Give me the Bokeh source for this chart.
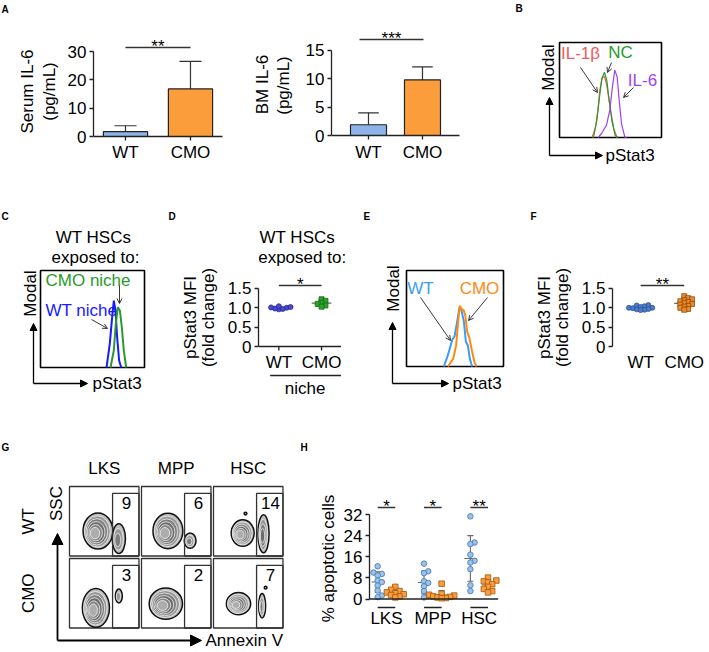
import numpy as np
from math import pi
from bokeh.plotting import figure
from bokeh.models import Range1d, Label, Arrow, NormalHead, OpenHead, FixedTicker
from bokeh.layouts import row, column
from bokeh.embed import file_html
from bokeh.resources import INLINE

FONT = "Liberation Sans"
FS = "17px"

# ======================= DATA =======================
groups = ["WT", "CMO"]

# A: IL-6 (mean, upper SD)
serum_il6_mean = [1.7, 16.8]
serum_il6_sd = [2.1, 9.7]
serum_sig = "**"
bm_il6_mean = [1.9, 9.8]
bm_il6_sd = [2.1, 2.3]
bm_sig = "***"

# B: pStat3 histograms (x: % of axis, y: % of box height)
b_labels = ["IL-1β", "NC", "IL-6"]
b_il1b_x = [32, 35.3, 37.6, 39.5, 41.8, 44.1, 46.1, 48.4, 50.7, 53.3, 56.5]
b_il1b_y = [0, 10.8, 28.4, 49.5, 62.8, 64.2, 56.5, 40.7, 24.9, 9.1, 0]
b_nc_x = [33.3, 36.6, 39.2, 41.5, 44.1, 46.4, 48.7, 51.3, 54.6, 57.0]
b_nc_y = [0, 18, 42.5, 61.8, 68.7, 59.9, 38.9, 17.9, 2.1, 0]
b_il6_x = [37.9, 41.2, 46.1, 49.3, 51.9, 54.2, 56.5, 58.5, 60.8, 64.0, 65.7]
b_il6_y = [0, 4.2, 13, 28.8, 53.3, 70.9, 63.9, 39.3, 14.7, 0.7, 0]

# C: WT HSCs exposed to niches
c_labels = ["CMO niche", "WT niche"]
c_wt_x = [63.5, 66.6, 68.9, 70.5, 72.1, 73.7, 75.6, 77.6]
c_wt_y = [0, 24.4, 51.9, 69, 58.8, 31.2, 7.2, 0]
c_cmo_x = [67.3, 70.5, 72.4, 74.4, 76.3, 78.2, 80.1, 82.4]
c_cmo_y = [0, 17.5, 45, 62.2, 58.8, 41.5, 17.5, 0]

# D: pStat3 MFI fold change (niche)
d_wt = [0.96, 0.98, 1.0, 1.01, 1.02, 0.97, 1.04]
d_cmo = [1.22, 1.18, 1.13, 1.10, 1.06, 1.03]
d_sig = "*"

# E: pStat3 histograms WT vs CMO
e_labels = ["WT", "CMO"]
e_wt_x = [38.5, 42.6, 47.1, 49.5, 52.3, 54.6, 56.7, 59.1, 61.2, 63.2, 65.3, 67.7]
e_wt_y = [0, 11.5, 27.6, 31.2, 47.3, 61.6, 58, 47.3, 25.8, 22.2, 7.9, 0]
e_cmo_x = [42.6, 48.1, 51.2, 53.3, 55, 56.7, 58.8, 60.5, 62.5, 64.9, 67.7, 70.1, 72.2]
e_cmo_y = [0, 7.9, 22.2, 47.3, 63.4, 59.9, 58.8, 54.1, 36.6, 29.4, 15.1, 4.3, 0]

# F: pStat3 MFI fold change
f_wt = [1.07, 1.06, 1.04, 1.02, 1.0, 1.0, 0.99, 0.97, 0.96, 0.95, 0.94]
f_cmo = [1.3, 1.25, 1.22, 1.2, 1.17, 1.15, 1.12, 1.1, 1.08, 1.05, 1.03, 1.0, 0.97, 0.95]
f_sig = "**"

# G: Annexin V flow plots
g_cols = ["LKS", "MPP", "HSC"]
g_rows = ["WT", "CMO"]
g_gate_pct = [9, 6, 14, 3, 2, 7]
pop_row = [0, 0, 0, 0, 0, 0, 0, 1, 1, 1, 1, 1, 1]
pop_col = [0, 0, 1, 1, 2, 2, 2, 0, 0, 1, 2, 2, 2]
pop_u = [0.41, 0.71, 0.38, 0.70, 0.42, 0.72, 0.46, 0.38, 0.71, 0.35, 0.36, 0.70, 0.75]
pop_v = [0.36, 0.25, 0.36, 0.22, 0.33, 0.32, 0.61, 0.29, 0.46, 0.35, 0.35, 0.32, 0.58]
pop_w = [0.43, 0.19, 0.43, 0.17, 0.33, 0.16, 0.04, 0.39, 0.10, 0.48, 0.35, 0.10, 0.04]
pop_h = [0.52, 0.43, 0.51, 0.22, 0.38, 0.55, 0.04, 0.56, 0.20, 0.45, 0.32, 0.35, 0.04]
pop_lv = [6, 3, 6, 3, 6, 4, 1, 6, 2, 6, 6, 3, 1]

# H: % apoptotic cells
h_groups = ["LKS", "MPP", "HSC"]
h_wt = [[12.4, 10.0, 9.5, 8.9, 7.0, 6.4, 5.1, 3.2, 1.3, 0.7],
        [13.4, 10.5, 9.8, 6.7, 6.1, 4.8, 3.0, 1.2, 0.6],
        [31.3, 21.4, 20.8, 16.8, 14.5, 13.8, 11.3, 5.2, 3.0]]
h_cmo = [[4.6, 3.5, 3.0, 2.5, 2.2, 1.8, 1.5, 1.0, 0.6],
         [5.8, 2.0, 1.6, 1.3, 1.0, 0.8, 0.6, 0.4, 0.3],
         [8.1, 7.0, 6.7, 6.3, 5.6, 4.6, 3.8, 3.0, 2.5]]
h_sig = ["*", "*", "**"]

# ======================= STYLE =======================
C_BAR_WT = "#8db3ea"
C_BAR_CMO = "#fb9d3b"
C_RED = "#f05a5a"
C_GREEN = "#2a9a2a"
C_PURPLE = "#a040f0"
C_BLUE = "#1a1aff"
C_LBLUE = "#3c9cf5"
C_ORANGE = "#ff8a10"
AX = "#222222"
H1 = 205   # row heights
H2 = 205
H3 = 241


def _fig(w, h, xr, yr, bl=0, yaxis=False):
    p = figure(width=w, height=h, x_range=Range1d(*xr), y_range=Range1d(*yr),
               output_backend="svg", toolbar_location=None,
               x_axis_location=None, y_axis_location=("left" if yaxis else None),
               min_border_left=bl, min_border_right=0, min_border_top=0, min_border_bottom=0)
    try:
        p.xgrid.visible = False
        p.ygrid.visible = False
    except Exception:
        pass
    p.outline_line_color = None
    return p


def strip(x0, y0, w, h):
    # blank text strip, data units = page pixels (y grows downward)
    return _fig(w, h, (x0, x0 + w), (y0 + h, y0))


def style_yaxis(p, ticks, bounds, overrides=None):
    ax = p.yaxis[0]
    ax.axis_line_color = AX
    ax.axis_line_width = 1.3
    ax.major_tick_line_color = AX
    ax.major_tick_line_width = 1.3
    ax.major_tick_in = 0
    ax.major_tick_out = 4
    ax.minor_tick_line_color = None
    ax.major_label_text_font = FONT
    ax.major_label_text_font_size = FS
    ax.major_label_text_color = "black"
    ax.major_label_standoff = 3
    ax.ticker = FixedTicker(ticks=ticks)
    ax.bounds = bounds
    if overrides:
        ax.major_label_overrides = overrides


def txt(p, x, y, text, size=FS, color="black", angle=0.0, align="center",
        baseline="middle", style="normal"):
    p.add_layout(Label(x=x, y=y, text=text, text_font=FONT, text_font_size=size,
                       text_color=color, angle=angle, text_align=align,
                       text_baseline=baseline, text_font_style=style))


def letter(p, x, y, t):
    txt(p, x, y, t, size="10px", style="bold", align="left")


def arrow(p, x0, y0, x1, y1, head="normal", size=7, lw=1.3, color="black"):
    if head == "normal":
        hd = NormalHead(size=size, fill_color=color, line_color=color, line_width=1)
    elif head == "open":
        hd = OpenHead(size=size, line_color=color, line_width=lw)
    else:
        hd = None
    p.add_layout(Arrow(end=hd, x_start=x0, y_start=y0, x_end=x1, y_end=y1,
                       line_color=color, line_width=lw))


def conv(x0, ppx, left, y0, ppy, bottom):
    return (lambda px: x0 + (px - left) / ppx), (lambda py: y0 + (bottom - py) / ppy)


def swarm(vals, thresh, step):
    vals = np.asarray(vals, float)
    offs = np.zeros(len(vals))
    placed = []
    for i in np.argsort(vals):
        v = vals[i]
        k = 0
        while True:
            c = 0.0 if k == 0 else ((k + 1) // 2) * step * (1 if k % 2 else -1)
            if all(abs(v - pv) >= thresh or abs(c - po) >= step * 0.999 for pv, po in placed):
                break
            k += 1
        offs[i] = c
        placed.append((v, c))
    return offs


def mean_sd(p, xc, vals, half_mean, half_cap, color="#666666", lw=1.1):
    m = float(np.mean(vals))
    s = float(np.std(vals, ddof=1))
    p.segment([xc - half_mean], [m], [xc + half_mean], [m], line_color=color, line_width=lw)
    p.segment([xc], [m - s], [xc], [m + s], line_color=color, line_width=lw)
    p.segment([xc - half_cap, xc - half_cap], [m - s, m + s], [xc + half_cap, xc + half_cap],
              [m - s, m + s], line_color=color, line_width=lw)


def x_axis_manual(p, x0, x1, ticks, labels, tick_len, label_y, line=True):
    n = len(ticks)
    if line:
        p.segment([x0], [0], [x1], [0], line_color=AX, line_width=1.3)
        if tick_len:
            p.segment(ticks, [0] * n, ticks, [-tick_len] * n, line_color=AX, line_width=1.3)
    for t, lab in zip(ticks, labels):
        txt(p, t, label_y, lab)


# ======================= ROW 1 =======================
# --- A (serum) ---
sa1 = strip(0, 0, 62, H1)
letter(sa1, 1, 9, "A")
txt(sa1, 27, 91, "Serum IL-6", angle=pi / 2)
txt(sa1, 49, 91, "(pg/mL)", angle=pi / 2)

fx, fy = conv(0.508, 65, 93, 0, 2.833, 136)
a1 = _fig(173, H1, (fx(93), fx(235)), (fy(H1), fy(0)), bl=31, yaxis=True)


def bars(p, means, sds, bw, cap):
    xs = np.array([1.0, 2.0])
    m = np.array(means, float)
    s = np.array(sds, float)
    p.segment(xs, m, xs, m + s, line_color="#333333", line_width=1.2)
    p.segment(xs - cap / 2, m + s, xs + cap / 2, m + s, line_color="#333333", line_width=1.2)
    p.vbar(x=xs, top=m, bottom=0, width=bw, fill_color=[C_BAR_WT, C_BAR_CMO],
           line_color="#222222", line_width=1.2)


bars(a1, serum_il6_mean, serum_il6_sd, 0.68, 0.34)
a1.segment([1.0], [fy(47)], [2.0], [fy(47)], line_color="#333333", line_width=1.3)
txt(a1, 1.5, fy(46), serum_sig, baseline="alphabetic")
x_axis_manual(a1, fx(93), fx(222), [1, 2], groups, 4 / 2.833, fy(152))
style_yaxis(a1, [0, 10, 20, 30], (0, 30))

# --- A (BM) ---
sa2 = strip(235, 0, 65, H1)
txt(sa2, 262, 84, "BM IL-6", angle=pi / 2)
txt(sa2, 283, 85, "(pg/mL)", angle=pi / 2)

fx, fy = conv(0.315, 54, 331, 0, 5.667, 135)
a2 = _fig(170, H1, (fx(331), fx(470)), (fy(H1), fy(0)), bl=31, yaxis=True)
bars(a2, bm_il6_mean, bm_il6_sd, 0.667, 0.38)
a2.segment([fx(359)], [fy(39)], [fx(423)], [fy(39)], line_color="#333333", line_width=1.3)
txt(a2, fx(391), fy(38), bm_sig, baseline="alphabetic")
x_axis_manual(a2, fx(331), fx(459), [1, 2], groups, 4 / 5.667, fy(152))
style_yaxis(a2, [0, 5, 10, 15], (0, 15))

# --- B ---
fx, fy = conv(0, 1.02, 559, 0, 0.95, 137)
b = _fig(238, H1, (fx(470), fx(708)), (fy(H1), fy(0)))
b.quad(left=[0], right=[100], bottom=[0], top=[100], fill_color=None, line_color="black",
       line_width=1.6)
b.line(b_il1b_x, b_il1b_y, line_color=C_RED, line_width=1.2)
b.line(b_nc_x, b_nc_y, line_color=C_GREEN, line_width=1.2)
b.line(b_il6_x, b_il6_y, line_color=C_PURPLE, line_width=1.2)
letter(b, fx(515), fy(8), "B")
arrow(b, fx(549), fy(155), fx(549), fy(97))
arrow(b, fx(549), fy(155), fx(602), fy(155))
txt(b, fx(605), fy(155), "pStat3", align="left")
txt(b, fx(548), fy(67), "Modal", angle=pi / 2)
txt(b, fx(580), fy(53), b_labels[0], color=C_RED)
txt(b, fx(620), fy(52), b_labels[1], color=C_GREEN)
txt(b, fx(642), fy(80), b_labels[2], color=C_PURPLE)
arrow(b, fx(580), fy(67), fx(597), fy(92), head="open", size=5, lw=0.9, color="#222222")
arrow(b, fx(611), fy(62), fx(607), fy(72), head="open", size=5, lw=0.9, color="#222222")
arrow(b, fx(633), fy(87), fx(623), fy(97), head="open", size=5, lw=0.9, color="#222222")

# ======================= ROW 2 =======================
Y2 = H1
# --- C ---
fx, fy = conv(0, 1.04, 40, 0, 0.97, 367)
c = _fig(150, H2, (fx(0), fx(150)), (fy(Y2 + H2), fy(Y2)))
c.quad(left=[0], right=[100], bottom=[0], top=[100], fill_color=None, line_color="black",
       line_width=1.6)
c.line(c_wt_x, c_wt_y, line_color=C_BLUE, line_width=2)
c.line(c_cmo_x, c_cmo_y, line_color=C_GREEN, line_width=2)
letter(c, fx(1), fy(216), "C")
txt(c, fx(93), fy(237), "WT HSCs")
txt(c, fx(95), fy(257), "exposed to:")
arrow(c, fx(33), fy(383), fx(33), fy(323))
arrow(c, fx(33), fy(383), fx(87), fy(383))
txt(c, fx(92), fy(383), "pStat3", align="left")
txt(c, fx(30), fy(293), "Modal", angle=pi / 2)
txt(c, fx(45), fy(280), c_labels[0], color=C_GREEN, align="left")
txt(c, fx(45), fy(310), c_labels[1], color=C_BLUE, align="left")
arrow(c, fx(119), fy(285), fx(119), fy(303), head="open", size=5, lw=0.9, color="#222222")
arrow(c, fx(91), fy(319), fx(107), fy(328), head="open", size=5, lw=0.9, color="#222222")


# --- D / F helper ---
def mfi_panel(p, wt, cmo, wt_col, cmo_col, sig, pxu, fy):
    mean_sd(p, 1.0, wt, 0.23, 0.07)
    mean_sd(p, 2.0, cmo, 0.23, 0.07)
    ow = swarm(wt, 3.0 / 38.7, 4.0 / pxu)
    oc = swarm(cmo, 3.0 / 38.7, 4.0 / pxu)
    p.scatter(1.0 + ow, wt, marker="circle", size=5, fill_color=wt_col[0], line_color=wt_col[1],
              line_width=0.8)
    p.scatter(2.0 + oc, cmo, marker="square", size=5, fill_color=cmo_col[0],
              line_color=cmo_col[1], line_width=0.8)
    p.segment([1.0], [fy(285)], [2.0], [fy(285)], line_color="#333333", line_width=1.3)
    txt(p, 1.5, fy(284), sig, baseline="alphabetic")
    style_yaxis(p, [0, 0.5, 1.0, 1.5], (0, 1.5), {0: "0", 0.5: "0.5", 1: "1.0", 1.5: "1.5"})


# --- D ---
sd = strip(150, Y2, 74, H2)
letter(sd, 168, 216, "D")
txt(sd, 190, 317, "pStat3 MFI", angle=pi / 2)
txt(sd, 208, 317, "(fold change)", angle=pi / 2)

fx, fy = conv(0.523, 44, 255, 0, 38.7, 346)
d = _fig(131, H2, (fx(255), fx(355)), (fy(Y2 + H2), fy(Y2)), bl=31, yaxis=True)
mfi_panel(d, d_wt, d_cmo, ("#4a4ad0", "#26268a"), ("#2aa52a", "#176a17"), d_sig, 44, fy)
x_axis_manual(d, fx(255), fx(340), [1, 2], groups, 4 / 38.7, fy(362))
txt(d, fx(295), fy(237), "WT HSCs")
txt(d, fx(300), fy(257), "exposed to:")
d.segment([fx(267)], [fy(375)], [fx(340)], [fy(375)], line_color=AX, line_width=1.3)
txt(d, fx(303), fy(388), "niche")

# --- E ---
fx, fy = conv(0, 0.97, 406, 0, 0.96, 366)
e = _fig(160, H2, (fx(355), fx(515)), (fy(Y2 + H2), fy(Y2)))
e.quad(left=[0], right=[100], bottom=[0], top=[100], fill_color=None, line_color="black",
       line_width=1.6)
e.line(e_wt_x, e_wt_y, line_color=C_LBLUE, line_width=2)
e.line(e_cmo_x, e_cmo_y, line_color=C_ORANGE, line_width=2)
letter(e, fx(363), fy(216), "E")
arrow(e, fx(392), fy(383), fx(392), fy(322))
arrow(e, fx(392), fy(383), fx(448), fy(383))
txt(e, fx(452), fy(383), "pStat3", align="left")
txt(e, fx(393), fy(288), "Modal", angle=pi / 2)
txt(e, fx(420), fy(288), e_labels[0], color=C_LBLUE)
txt(e, fx(479), fy(288), e_labels[1], color=C_ORANGE)
arrow(e, fx(420), fy(297), fx(450), fy(340), head="open", size=5, lw=0.9, color="#222222")
arrow(e, fx(487), fy(297), fx(468), fy(320), head="open", size=5, lw=0.9, color="#222222")

# --- F ---
sf = strip(515, Y2, 63, H2)
letter(sf, 530, 216, "F")
txt(sf, 544, 317, "pStat3 MFI", angle=pi / 2)
txt(sf, 562, 317, "(fold change)", angle=pi / 2)

fx, fy = conv(0.356, 45, 609, 0, 38.7, 346)
f = _fig(130, H2, (fx(609), fx(708)), (fy(Y2 + H2), fy(Y2)), bl=31, yaxis=True)
mfi_panel(f, f_wt, f_cmo, ("#4d7ccb", "#2c4f8f"), ("#ee8a2a", "#8f4a0e"), f_sig, 45, fy)
x_axis_manual(f, fx(609), fx(700), [1, 2], groups, 0, fy(362), line=False)

# ======================= ROW 3 =======================
Y3 = H1 + H2
CELL = 0.965
gx = lambda px: (px - 69) / 72.0
gy = lambda py: (py - 486) / 72.0
g = _fig(300, H3, (gx(0), gx(300)), (gy(Y3 + H3), gy(Y3)))
cx = [cc + CELL / 2 for rr in range(2) for cc in range(3)]
cy = [rr + CELL / 2 for rr in range(2) for cc in range(3)]
g.rect(cx, cy, CELL, CELL, fill_color="white", line_color="#333333", line_width=1.3)

levels_fill = ["#bdbdbd", "#979797", "#7e7e7e", "#6c6c6c", "#858585", "#adadad"]
ex, ey, ew, eh, ef, elc, elw = [], [], [], [], [], [], []
for rr, cc, u, v, w_, h_, lv in zip(pop_row, pop_col, pop_u, pop_v, pop_w, pop_h, pop_lv):
    for k in range(lv):
        s = 1.0 - 0.82 * k / lv
        sh = 0.12 * k / lv
        uu = u - sh * w_
        vv = v - sh * h_ * 0.6
        ex.append(cc + uu * CELL)
        ey.append(rr + (1 - vv) * CELL)
        ew.append(w_ * s * CELL)
        eh.append(h_ * s * CELL)
        ef.append(levels_fill[k])
        elc.append("#111111" if k == 0 else "#f2f2f2")
        elw.append(1.5 if k == 0 else 0.8)
g.ellipse(x=ex, y=ey, width=ew, height=eh, fill_color=ef, line_color=elc, line_width=elw)

gl, gr_, gt, gb = [], [], [], []
for rr in range(2):
    for cc in range(3):
        gl.append(cc + 0.62 * CELL)
        gr_.append(cc + CELL)
        gt.append(rr + 0.1 * CELL)
        gb.append(rr + CELL)
g.quad(left=gl, right=gr_, top=gt, bottom=gb, fill_color=None, line_color="#333333",
       line_width=1.3)
for i, val in enumerate(g_gate_pct):
    rr, cc = divmod(i, 3)
    txt(g, cc + 0.82 * CELL, rr + 0.24 * CELL, str(val))
for cc, name in enumerate(g_cols):
    txt(g, cc + CELL / 2, gy(468), name)
for rr, name in enumerate(g_rows):
    txt(g, gx(28), rr + CELL / 2, name, angle=pi / 2)
letter(g, gx(1), gy(447), "G")
txt(g, gx(56), gy(503), "SSC", angle=pi / 2)
arrow(g, gx(57), gy(640), gx(57), gy(533), size=11, lw=1.8)
arrow(g, gx(57), gy(640), gx(201), gy(640), size=11, lw=1.8)
txt(g, gx(205), gy(640), "Annexin V", align="left")

# --- H ---
shs = strip(300, Y3, 40, H3)
letter(shs, 300, 447, "H")
txt(shs, 328, 558, "% apoptotic cells", angle=pi / 2)

fx, fy = conv(-0.366, 46.5, 368, 0, 2.64, 598.5)
h = _fig(368, H3, (fx(368), fx(708)), (fy(Y3 + H3), fy(Y3)), bl=28, yaxis=True)
OFF = 0.19
for i in range(3):
    mean_sd(h, i - OFF, h_wt[i], 0.13, 0.065)
    mean_sd(h, i + OFF, h_cmo[i], 0.13, 0.065)
for i in range(3):
    ow = swarm(h_wt[i], 1.6, 0.09)
    oc = swarm(h_cmo[i], 1.6, 0.09)
    h.scatter(i - OFF + ow, h_wt[i], marker="circle", size=5.5, fill_color="#9cc2e8",
              line_color="#4a7ebb", line_width=0.9)
    h.scatter(i + OFF + oc, h_cmo[i], marker="square", size=5.5, fill_color="#f5a040",
              line_color="#b35c12", line_width=0.9)
    h.segment([i - OFF], [fy(507)], [i + OFF], [fy(507)], line_color="#333333", line_width=1.3)
    txt(h, i, fy(506), h_sig[i], baseline="alphabetic")
    h.segment([i - OFF], [fy(607)], [i + OFF], [fy(607)], line_color=AX, line_width=1.3)
x_axis_manual(h, fx(368), fx(497), [0, 1, 2], h_groups, 0, fy(618))
style_yaxis(h, [0, 8, 16, 24, 32], (0, 32))

layout = column(row(sa1, a1, sa2, a2, b), row(c, sd, d, e, sf, f), row(g, shs, h))
open("out.html", "w").write(file_html(layout, INLINE))
